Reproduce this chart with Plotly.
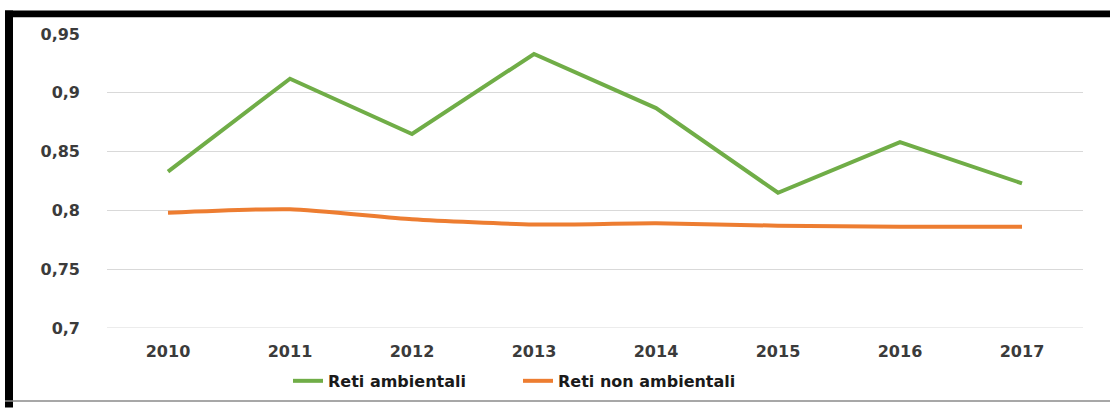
import plotly.graph_objects as go

years = ["2010", "2011", "2012", "2013", "2014", "2015", "2016", "2017"]
reti_ambientali = [0.833, 0.912, 0.865, 0.933, 0.887, 0.815, 0.858, 0.823]
reti_non_ambientali = [0.798, 0.801, 0.7925, 0.788, 0.789, 0.787, 0.786, 0.786]
y_tickvals = [0.7, 0.75, 0.8, 0.85, 0.9, 0.95]
y_ticktext = ["0,7", "0,75", "0,8", "0,85", "0,9", "0,95"]

FONT = "DejaVu Sans"
TXT = "#3b3b3b"

FW, FH = 1110, 410

fig = go.Figure()
fig.add_trace(go.Scatter(x=years, y=reti_ambientali, mode="lines", name="Reti ambientali",
                         line=dict(color="#70ad47", width=4)))
fig.add_trace(go.Scatter(x=years, y=reti_non_ambientali, mode="lines", name="Reti non ambientali",
                         line=dict(color="#ed7d31", width=4, shape="spline", smoothing=0.6)))

# plot area in window px: x 107..1083, y 34..334
L, R, T, B = 107, 1083, 34, 334
W, H = R - L, B - T
def px(x): return (x - L) / W
def py(y): return (B - y) / H

shapes = [
    dict(type="rect", xref="paper", yref="paper", x0=px(5), x1=px(1115), y0=py(17), y1=py(10),
         fillcolor="black", line=dict(width=0), layer="above"),
    dict(type="rect", xref="paper", yref="paper", x0=px(5), x1=px(13), y0=py(415), y1=py(10),
         fillcolor="black", line=dict(width=0), layer="above"),
    dict(type="line", xref="paper", yref="paper", x0=px(5), x1=px(1115), y0=py(408.5), y1=py(408.5),
         line=dict(color="#8a8a8a", width=1.5), layer="above"),
]

fig.update_layout(
    width=FW, height=FH,
    margin=dict(l=L, r=FW - R, t=T, b=FH - B),
    paper_bgcolor="white", plot_bgcolor="white",
    font=dict(family=FONT, size=16, color=TXT, weight="bold"),
    showlegend=True,
    legend=dict(orientation="h", x=px(288), xanchor="left", y=py(388), yanchor="middle",
                font=dict(family=FONT, size=16, color="#1a1a1a", weight="bold"),
                entrywidth=185, entrywidthmode="pixels", bgcolor="rgba(0,0,0,0)"),
    shapes=shapes,
)
fig.update_xaxes(type="category", showgrid=False, showline=False, ticks="",
                 range=[-0.5, 7.5], ticklabelstandoff=12,
                 tickfont=dict(family=FONT, size=16, color=TXT, weight="bold"))
fig.update_yaxes(range=[0.7, 0.95], tickvals=y_tickvals, ticktext=y_ticktext,
                 showgrid=True, gridcolor="#d9d9d9", gridwidth=1, zeroline=False,
                 showline=False, ticks="", ticklabelstandoff=26,
                 tickfont=dict(family=FONT, size=16, color=TXT, weight="bold"))
fig.add_hline(y=0.7, line=dict(color="#d9d9d9", width=1), layer="below")

fig.write_html(
    "out.html",
    config={"displayModeBar": False},
    post_script=(
        "document.documentElement.style.margin='0';"
        "document.documentElement.style.overflow='hidden';"
        "document.body.style.margin='0';"
        "document.body.style.overflow='hidden';"
    ),
)
